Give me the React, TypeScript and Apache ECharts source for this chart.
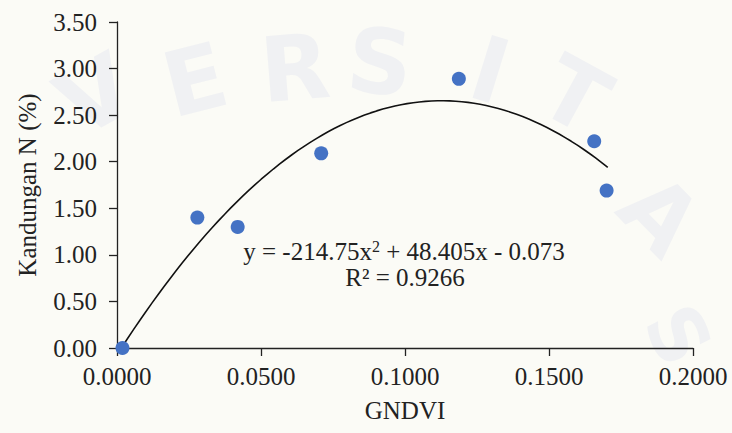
import React, { useEffect, useRef } from "react";
import * as echarts from "echarts";

const gndvi = [0.0019, 0.0279, 0.0419, 0.0709, 0.1187, 0.1657, 0.17];
const nitrogen = [0.0, 1.4, 1.3, 2.09, 2.89, 2.22, 1.69];
// trendline coefficients shown on the chart: y = a x^2 + b x + c
const trendCoef = [-214.75, 48.405, -0.073];
const trendRange = [0.0015, 0.1704];
const xTicks = [0, 0.05, 0.1, 0.15, 0.2];
const yTicks = [0, 0.5, 1, 1.5, 2, 2.5, 3, 3.5];

const FONT = "Liberation Serif";

export default function App() {
  const ref = useRef<HTMLDivElement>(null);
  useEffect(() => {
    if (!ref.current) return;
    const chart = echarts.init(ref.current, undefined, { renderer: "svg" });
    const pts = gndvi.map((x, i) => [x, nitrogen[i]]);
    const trend: number[][] = [];
    const steps = 80;
    for (let i = 0; i <= steps; i++) {
      const x = trendRange[0] + ((trendRange[1] - trendRange[0]) * i) / steps;
      trend.push([x, trendCoef[0] * x * x + trendCoef[1] * x + trendCoef[2]]);
    }
    const wm = "#f0f1f3";
    const wmText = (t: string, x: number, y: number, rot: number, size = 90) => ({
      type: "text",
      x,
      y,
      rotation: rot,
      silent: true,
      z: -10,
      style: { text: t, fill: wm, font: `bold ${size}px DejaVu Sans`, align: "center", verticalAlign: "middle" },
    });
    chart.setOption({
      animation: false,
      backgroundColor: "#fbfbf6",
      grid: { left: 117, right: 39, top: 22, bottom: 85, containLabel: false },
      xAxis: {
        type: "value",
        min: xTicks[0],
        max: xTicks[xTicks.length - 1],
        interval: 0.05,
        name: "GNDVI",
        nameLocation: "middle",
        nameGap: 50,
        nameTextStyle: { fontFamily: FONT, fontSize: 25, color: "#222" },
        axisLine: { lineStyle: { color: "#222", width: 1.3 } },
        axisTick: { show: true, length: 8, lineStyle: { color: "#222", width: 1.3 } },
        axisLabel: { fontFamily: FONT, fontSize: 25, color: "#222", margin: 16, formatter: (v: number) => v.toFixed(4) },
        splitLine: { show: false },
      },
      yAxis: {
        type: "value",
        min: yTicks[0],
        max: yTicks[yTicks.length - 1],
        interval: 0.5,
        name: "Kandungan N (%)",
        nameLocation: "middle",
        nameGap: 77,
        nameTextStyle: { fontFamily: FONT, fontSize: 25, color: "#222" },
        axisLine: { show: true, lineStyle: { color: "#222", width: 1.3 } },
        axisTick: { show: true, length: 8, lineStyle: { color: "#222", width: 1.3 } },
        axisLabel: { fontFamily: FONT, fontSize: 25, color: "#222", margin: 20, formatter: (v: number) => v.toFixed(2) },
        splitLine: { show: false },
      },
      graphic: [
        wmText("V", 95, 95, 0.5),
        wmText("E", 195, 80, 0.25),
        wmText("R", 295, 68, 0.08),
        wmText("S", 380, 62, -0.1),
        wmText("I", 490, 70, -0.3),
        wmText("T", 575, 95, -0.5),
        wmText("A", 660, 215, -0.8),
        wmText("S", 678, 335, -1.1, 76),
        {
          type: "text",
          x: 404,
          y: 251,
          z: 10,
          style: {
            text: "{n|y = -214.75x}{s|2}{n| + 48.405x - 0.073}",
            align: "center",
            verticalAlign: "middle",
            rich: {
              n: { fontFamily: FONT, fontSize: 25, fill: "#222" },
              s: { fontFamily: FONT, fontSize: 16, fill: "#222", verticalAlign: "top", padding: [0, 0, 10, 0] },
            },
          },
        },
        {
          type: "text",
          x: 405,
          y: 277,
          z: 10,
          style: { text: "R² = 0.9266", font: `25px ${FONT}`, fill: "#222", align: "center", verticalAlign: "middle" },
        },
      ],
      series: [
        {
          type: "line",
          data: trend,
          showSymbol: false,
          symbol: "none",
          smooth: false,
          lineStyle: { color: "#111", width: 1.6 },
          z: 2,
        },
        {
          type: "scatter",
          data: pts,
          symbolSize: 14,
          itemStyle: { color: "#4472C4", opacity: 1 },
          z: 3,
        },
      ],
    });
    return () => chart.dispose();
  }, []);
  return <div ref={ref} style={{ position: "fixed", left: 0, top: 0, width: 732, height: 433 }} />;
}
